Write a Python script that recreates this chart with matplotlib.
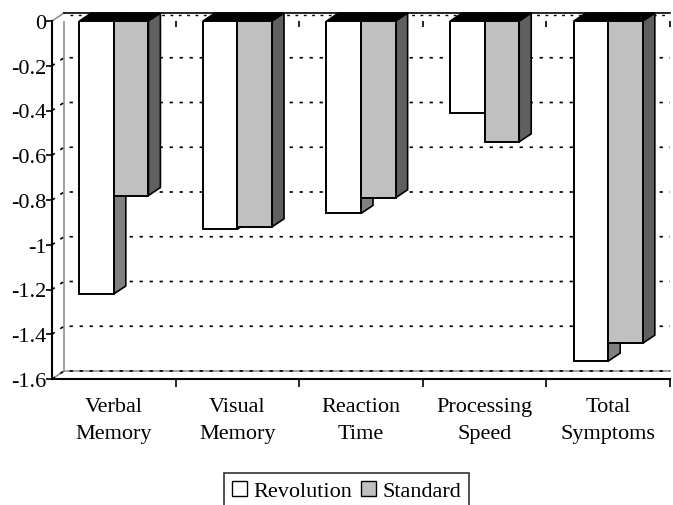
import matplotlib
matplotlib.use("Agg")
import matplotlib.pyplot as plt
from matplotlib.patches import Polygon, Patch
import numpy as np

categories = ["Verbal\nMemory", "Visual\nMemory", "Reaction\nTime",
              "Processing\nSpeed", "Total\nSymptoms"]
revolution = [-1.22, -0.93, -0.86, -0.41, -1.52]
standard = [-0.78, -0.92, -0.79, -0.54, -1.44]
y_ticks = [0, -0.2, -0.4, -0.6, -0.8, -1, -1.2, -1.4, -1.6]
y_labels = ["0", "-0.2", "-0.4", "-0.6", "-0.8", "-1", "-1.2", "-1.4", "-1.6"]

plt.rcParams["font.family"] = ["Liberation Serif", "DejaVu Serif"]
FS = 16

fig = plt.figure(figsize=(6.73, 5.06), dpi=100)
ax = fig.add_axes([52 / 673, 1 - 380 / 506, 618 / 673, 358 / 506])
ax.set_xlim(0, 5)
ax.set_ylim(-1.6, 0)

# 3D depth offset in data units
dx = 12 / 123.6
dy = 8 / 223.75
ymin = -1.6
n = len(categories)

# back wall and gridlines
ax.plot([dx, dx], [ymin + dy, dy], color="#909090", lw=1.2, clip_on=False, zorder=1)
ax.plot([0, dx], [ymin, ymin + dy], color="#909090", lw=1.2, clip_on=False, zorder=1)
ax.plot([dx, n], [ymin + dy, ymin + dy], color="#909090", lw=1.2, clip_on=False, zorder=1)
for v in y_ticks[1:]:
    ax.plot([0, dx, n], [v, v + dy, v + dy], color="black", lw=1.2,
            linestyle=(0, (2, 4)), clip_on=False, zorder=1)

# zero plane strip at top
ax.add_patch(Polygon([(0, 0), (n, 0), (n, dy), (dx, dy)], closed=True,
                     facecolor="white", edgecolor="none", clip_on=False, zorder=1))
ax.plot([dx, n], [dy, dy], color="black", lw=1.2, clip_on=False, zorder=6)
ax.plot([dx + 0.05, n], [dy * 0.8, dy * 0.8], color="black", lw=1.0,
        linestyle=(0, (2, 4)), clip_on=False, zorder=1)
ax.plot([0, dx], [0, dy], color="#909090", lw=1.2, clip_on=False, zorder=1)
ax.vlines(np.arange(1, n + 1), -0.027, 0, color="black", lw=1.2, zorder=2, clip_on=False)

x = np.arange(n) + 0.5
w = 0.28


def bar3d(xs, vals, front, side, z):
    for xc, v in zip(xs, vals):
        x0, x1 = xc - w / 2, xc + w / 2
        ax.add_patch(Polygon([(x1, 0), (x1, v), (x1 + dx, v + dy), (x1 + dx, dy)],
                             closed=True, facecolor=side, edgecolor="black",
                             lw=1.2, zorder=z, clip_on=False))
        ax.add_patch(Polygon([(x0, 0), (x1, 0), (x1 + dx, dy), (x0 + dx, dy)],
                             closed=True, facecolor="black", edgecolor="black",
                             lw=1.0, zorder=z, clip_on=False))
    ax.bar(xs, vals, width=w, color=front, edgecolor="black", lw=1.4, zorder=z + 0.5)


bar3d(x - w / 2, revolution, "white", "#808080", 3)
bar3d(x + w / 2, standard, "#c0c0c0", "#606060", 4)

# axes styling
for s in ["top", "right"]:
    ax.spines[s].set_visible(False)
ax.spines["left"].set_linewidth(1.5)
ax.spines["bottom"].set_linewidth(1.5)
ax.spines["left"].set_zorder(7)
ax.spines["bottom"].set_zorder(7)

ax.set_yticks(y_ticks)
ax.set_yticklabels(y_labels, fontsize=FS)
ax.tick_params(axis="y", direction="out", length=4, width=1.2, pad=0)

ax.set_xticks(np.arange(1, n + 1))
ax.set_xticklabels([])
ax.tick_params(axis="x", which="major", direction="out", length=6, width=1.2)
ax.set_xticks(x, minor=True)
ax.set_xticklabels(categories, minor=True, fontsize=FS, linespacing=1.55)
ax.tick_params(axis="x", which="minor", length=0, pad=13)

handles = [Patch(facecolor="white", edgecolor="black", lw=1.0, label="Revolution"),
           Patch(facecolor="#c0c0c0", edgecolor="black", lw=1.0, label="Standard")]
leg = fig.legend(handles=handles, loc="upper center", bbox_to_anchor=(0.515, 1 - 474 / 506),
                 ncol=2, fontsize=FS, frameon=True, fancybox=False, edgecolor="black",
                 handlelength=0.65, handleheight=0.65, handletextpad=0.3,
                 columnspacing=0.4, borderpad=0.35, borderaxespad=0)
leg.get_frame().set_linewidth(1.2)

fig.savefig("out.png", dpi=100)
